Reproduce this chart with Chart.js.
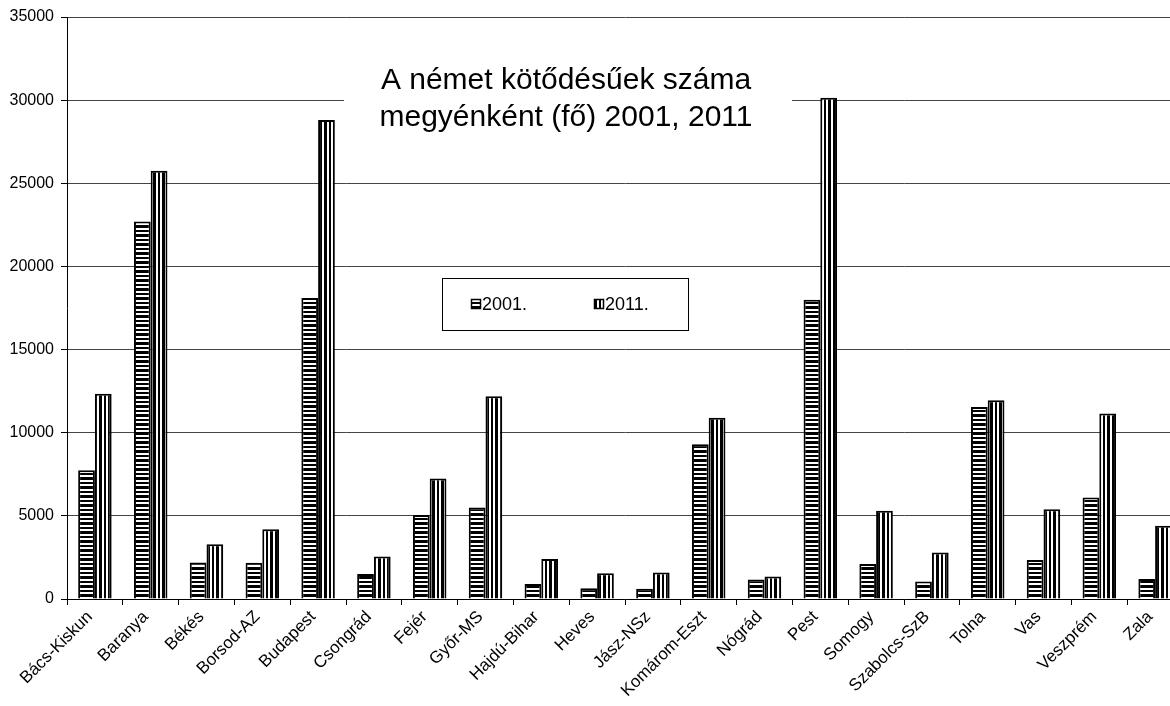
<!DOCTYPE html>
<html lang="hu">
<head>
<meta charset="utf-8">
<title>A német kötődésűek száma</title>
<script src="https://cdn.jsdelivr.net/npm/chart.js@4.4.1/dist/chart.umd.min.js"></script>
<style>
    html, body { margin: 0; padding: 0; background: #fff; overflow: hidden; }
    .chart-box { width: 1190px; height: 706px; }
</style>
</head>
<body>
<div class="chart-box"><canvas id="nemetChart"></canvas></div>
<script>
// adatok
const megyek = ['Bács-Kiskun', 'Baranya', 'Békés', 'Borsod-AZ', 'Budapest', 'Csongrád', 'Fejér', 'Győr-MS',
    'Hajdú-Bihar', 'Heves', 'Jász-NSz', 'Komárom-Eszt', 'Nógrád', 'Pest', 'Somogy', 'Szabolcs-SzB',
    'Tolna', 'Vas', 'Veszprém', 'Zala'];
const ertekek2001 = [7750, 22700, 2200, 2180, 18100, 1500, 5050, 5500, 900, 650, 620, 9300, 1180, 18000, 2100, 1050, 11550, 2350, 6100, 1200];
const ertekek2011 = [12350, 25750, 3300, 4200, 28800, 2550, 7250, 12200, 2400, 1550, 1600, 10900, 1350, 30150, 5300, 2800, 11950, 5400, 11150, 4400];
const yTicks = [0, 5000, 10000, 15000, 20000, 25000, 30000, 35000];
const sorozatNevek = ['2001.', '2011.'];
const cimSorok = ['A német kötődésűek száma', 'megyénként (fő) 2001, 2011'];

const FONT = 'Liberation Sans, Arial, sans-serif';
const canvas = document.getElementById('nemetChart');
const ctx = canvas.getContext('2d');

// csíkos minták (vízszintes / függőleges), kb. 4,5 px-es osztással
function makePattern(vertical) {
    const c = document.createElement('canvas');
    c.width = 9;
    c.height = 9;
    const g = c.getContext('2d');
    g.fillStyle = '#fff';
    g.fillRect(0, 0, 9, 9);
    g.fillStyle = '#000';
    if (vertical) {
        g.fillRect(0, 0, 3, 9);
        g.fillRect(5, 0, 2, 9);
    } else {
        g.fillRect(0, 0, 9, 3);
        g.fillRect(0, 5, 9, 2);
    }
    return ctx.createPattern(c, 'repeat');
}
const minta2001 = makePattern(false);
const minta2011 = makePattern(true);

// cím fehér dobozban a rács fölött
const cimPlugin = {
    id: 'cimPlugin',
    beforeDatasetsDraw(chart) {
        const c = chart.ctx;
        c.save();
        c.fillStyle = '#fff';
        c.fillRect(344, 55, 448, 95);
        c.fillStyle = '#000';
        c.font = '30px ' + FONT;
        c.textAlign = 'center';
        c.textBaseline = 'middle';
        c.fillText(cimSorok[0], 566, 81);
        c.fillText(cimSorok[1], 566, 118);
        c.restore();
    }
};

// jelmagyarázat a diagramon belül
const jelmagyarazatPlugin = {
    id: 'jelmagyarazatPlugin',
    afterDatasetsDraw(chart) {
        const c = chart.ctx;
        c.save();
        c.fillStyle = '#fff';
        c.fillRect(442, 278, 246, 52);
        c.strokeStyle = '#000';
        c.lineWidth = 1;
        c.strokeRect(442.5, 278.5, 246, 52);
        const helyek = [471, 594];
        chart.data.datasets.forEach((ds, i) => {
            const x = helyek[i];
            c.fillStyle = ds.backgroundColor;
            c.fillRect(x, 299, 10, 10);
            c.strokeStyle = '#000';
            c.lineWidth = 1.5;
            c.strokeRect(x + 0.5, 299.5, 9, 9);
            c.fillStyle = '#000';
            c.font = '18px ' + FONT;
            c.textAlign = 'left';
            c.textBaseline = 'middle';
            c.fillText(sorozatNevek[i], x + 11, 305);
        });
        c.restore();
    }
};

const nemetChart = new Chart(ctx, {
    type: 'bar',
    data: {
        labels: megyek,
        datasets: [{
            label: sorozatNevek[0],
            data: ertekek2001,
            backgroundColor: minta2001,
            borderColor: '#000',
            borderWidth: 2,
            categoryPercentage: 0.6,
            barPercentage: 1
        }, {
            label: sorozatNevek[1],
            data: ertekek2011,
            backgroundColor: minta2011,
            borderColor: '#000',
            borderWidth: 2,
            categoryPercentage: 0.6,
            barPercentage: 1
        }]
    },
    options: {
        responsive: true,
        maintainAspectRatio: false,
        animation: false,
        devicePixelRatio: 1,
        layout: { padding: { top: 17, right: 7, left: 0, bottom: 0 } },
        plugins: {
            legend: { display: false },
            tooltip: { enabled: false }
        },
        scales: {
            x: {
                grid: { display: true, drawOnChartArea: false, drawTicks: true, tickLength: 6, color: '#000', offset: true },
                border: { display: true, color: '#000', width: 1 },
                ticks: {
                    color: '#000',
                    font: { family: FONT, size: 17 },
                    minRotation: 45,
                    maxRotation: 45,
                    autoSkip: false,
                    padding: 2,
                    labelOffset: -5
                },
                afterFit: function (scale) { scale.height = 107; }
            },
            y: {
                min: 0,
                max: 35000,
                afterBuildTicks: function (scale) {
                    scale.ticks = yTicks.map(v => ({ value: v }));
                },
                grid: { color: '#444', tickColor: '#000', tickLength: 6 },
                border: { display: true, color: '#000', width: 1 },
                ticks: {
                    color: '#000',
                    font: { family: FONT, size: 16 },
                    padding: 7,
                    callback: function (value) { return String(value); }
                },
                afterFit: function (scale) { scale.width = 67; }
            }
        }
    },
    plugins: [cimPlugin, jelmagyarazatPlugin]
});
</script>
</body>
</html>
